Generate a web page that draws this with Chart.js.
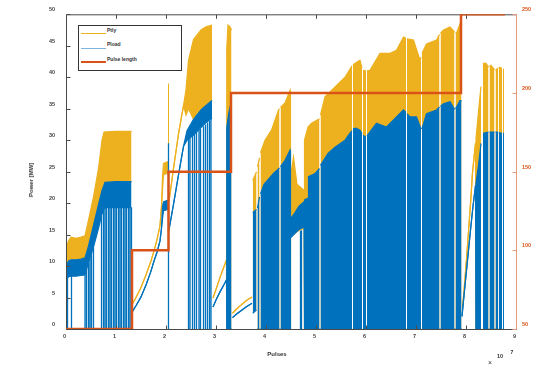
<!DOCTYPE html>
<html>
<head>
<meta charset="utf-8">
<script src="https://cdn.jsdelivr.net/npm/chart.js@4.4.1/dist/chart.umd.min.js"></script>
<style>
  html, body { margin: 0; padding: 0; background: #fff; }
  #wrap { position: relative; width: 536px; height: 365px; overflow: hidden;
          font-family: 'Liberation Sans', Arial, sans-serif; font-weight: bold; color: #333; }
  #c { position: absolute; left: 0; top: 0; }
  .t { position: absolute; white-space: nowrap; line-height: 1; }
  .sw { position: absolute; }
</style>
</head>
<body>
<div id="wrap">
  <canvas id="c" width="536" height="365"></canvas>

  <div class="t" style="left:31px;top:180px;font-size:6px;transform:translate(-50%,-50%) rotate(-90deg);">Power [MW]</div>
  <div class="t" style="left:277px;top:354px;font-size:6px;transform:translate(-50%,-50%);">Pulses</div>
  <div class="t" style="left:490px;top:362px;font-size:7px;font-weight:normal;transform:translate(-50%,-50%);">&times;</div>
  <div class="t" style="left:500px;top:357px;font-size:5.5px;transform:translate(-50%,-50%);">10</div>
  <div class="t" style="left:512px;top:352px;font-size:5px;transform:translate(-50%,-50%);">7</div>

  <div style="position:absolute;left:78px;top:25px;width:104px;height:46px;border:1px solid #333;background:#fff;box-sizing:border-box;"></div>
  <div class="sw" style="left:81px;top:32.5px;width:25px;height:1.2px;background:#EDB120;"></div>
  <div class="t" style="left:107px;top:29.5px;font-size:5px;transform:translateY(-50%);">Ptly</div>
  <div class="sw" style="left:81px;top:47.5px;width:25px;height:1.6px;background:#7FB5DE;"></div>
  <div class="t" style="left:107px;top:44px;font-size:5px;transform:translateY(-50%);">Pload</div>
  <div class="sw" style="left:81px;top:61px;width:25px;height:2.4px;background:#D95319;"></div>
  <div class="t" style="left:107px;top:59px;font-size:5px;transform:translateY(-50%);">Pulse length</div>
</div>

<script>
// ---------- data (pulses in units of 1e7) ----------
const pulseTicks = [0, 1, 2, 3, 4, 5, 6, 7, 8, 9];
const powerTicks = [0, 5, 10, 15, 20, 25, 30, 35, 40, 45, 50];
const lengthTicks = [50, 100, 150, 200, 250];

// pulse length step series (right axis)
const pulseLengthX = [0, 1.32, 2.05, 3.30, 7.90, 8.78];
const pulseLength  = [50, 100, 150, 200, 250, 250];

// Pload envelope: [pulses, high MW, low MW]  (null = no data)
const pload = [
  [0.00, 9.8, 7.8], [0.05, 10.8, 8.3], [0.10, 11.0, 8.4], [0.20, 11.0, 8.4], [0.30, 11.1, 8.5], [0.38, 11.3, 8.6],
  [0.45, 13.2, 10.5], [0.55, 16.5, 13.0], [0.65, 19.8, 16.0], [0.72, 22.0, 18.3], [0.78, 23.3, 19.3], [1.00, 23.4, 19.3], [1.31, 23.4, 19.3],
  [1.32, null, null],
  [1.33, 2.8, 2.8], [1.40, 3.7, 3.7], [1.50, 5.1, 5.1], [1.60, 7.0, 7.0], [1.70, 9.2, 9.2], [1.76, 10.8, 10.8], [1.82, 12.2, 12.2], [1.88, 14.0, 14.0], [1.91, 16.0, 16.0], [1.93, 19.5, 17.5], [1.95, 20.2, 18.8], [2.04, 20.5, 19.0],
  [2.045, null, null],
  [2.06, 15.8, 15.8], [2.15, 19.8, 19.8], [2.25, 24.5, 24.5], [2.35, 29.0, 29.0], [2.42, 31.5, 30.0], [2.55, 33.3, 30.8], [2.70, 34.8, 32.0], [2.80, 35.5, 32.8], [2.92, 36.3, 33.5],
  [2.93, null, null],
  [2.94, 3.5, 3.5], [3.00, 4.6, 4.6], [3.08, 5.9, 5.9], [3.15, 6.9, 6.9], [3.21, 7.8, 7.8],
  [3.215, 32.0, 0], [3.26, 34.5, 0], [3.31, 36.3, 0],
  [3.32, null, null],
  [3.33, 1.8, 1.8], [3.40, 2.3, 2.3], [3.50, 2.9, 2.9], [3.60, 3.5, 3.5], [3.72, 4.1, 4.1],
  [3.725, null, null],
  [3.735, 18.5, 2.5], [3.81, 19.0, 3.0],
  [3.82, null, null],
  [3.83, 19.2, 0], [3.87, 21.0, 0], [3.88, null, null], [3.89, 21.5, 0], [3.96, 23.0, 0], [4.05, 23.8, 0], [4.15, 24.7, 0], [4.27, 25.6, 0], [4.28, null, null], [4.29, 25.8, 0], [4.38, 26.8, 0], [4.48, 28.4, 0],
  [4.49, 17.5, 14.5], [4.58, 18.5, 15.2], [4.66, 19.5, 15.8], [4.76, 20.2, 16.2],
  [4.77, 20.5, 0], [4.84, 20.8, 0], [4.85, 24.2, 0], [4.98, 24.7, 0], [5.07, 25.5, 0], [5.08, null, null], [5.09, 26.0, 0], [5.24, 27.9, 0], [5.38, 28.9, 0], [5.58, 30.0, 0], [5.65, 30.8, 0], [5.72, 31.5, 0], [5.73, null, null], [5.74, 31.8, 0], [5.80, 31.9, 0], [5.88, 31.6, 0], [5.92, 31.0, 0], [5.93, null, null], [5.94, 30.8, 0], [6.00, 30.5, 0], [6.01, null, null], [6.02, 30.7, 0],
  [6.21, 32.7, 0], [6.41, 32.1, 0], [6.55, 33.2, 0], [6.75, 34.8, 0], [6.80, 34.4, 0], [6.81, null, null], [6.82, 34.2, 0], [6.88, 33.7, 0], [7.01, 33.7, 0], [7.10, 31.8, 0], [7.11, null, null], [7.12, 31.8, 0], [7.21, 34.2, 0], [7.41, 34.8, 0], [7.47, 35.3, 0], [7.48, null, null], [7.49, 35.4, 0], [7.55, 35.8, 0], [7.68, 36.1, 0], [7.77, 34.9, 0], [7.78, null, null], [7.79, 35.0, 0], [7.88, 36.3, 0], [7.91, 36.3, 0],
  [7.915, null, null],
  [7.92, 2.0, 2.0], [7.95, 4.5, 4.5], [8.00, 8.5, 8.5], [8.05, 12.5, 12.5], [8.10, 16.5, 16.5], [8.14, 19.5, 19.5], [8.19, 22.8, 22.8], [8.20, 23.2, 0], [8.25, 26.0, 0], [8.30, 29.5, 0], [8.32, null, null], [8.34, 30.9, 0], [8.35, 31.1, 0], [8.45, 31.3, 0], [8.46, null, null], [8.47, 31.3, 0], [8.57, 31.3, 0], [8.58, null, null], [8.59, 31.3, 0], [8.64, 31.3, 0], [8.645, null, null], [8.655, 31.2, 0], [8.72, 31.1, 0], [8.73, null, null], [8.74, 31.1, 0], [8.76, 31.1, 0]
];

// Ptly envelope: [pulses, high MW, low MW]
const ptly = [
  [0.00, 12.8, 9.8], [0.05, 14.0, 10.8], [0.10, 14.6, 11.0], [0.20, 14.4, 11.0], [0.30, 14.6, 11.1], [0.38, 14.8, 11.3],
  [0.45, 17.3, 13.2], [0.55, 21.0, 16.5], [0.65, 25.5, 19.8], [0.72, 30.0, 22.0], [0.76, 31.3, 23.0], [1.00, 31.4, 23.4], [1.31, 31.4, 23.4],
  [1.32, null, null],
  [1.33, 4.0, 4.0], [1.40, 5.0, 5.0], [1.50, 6.6, 6.6], [1.60, 8.6, 8.6], [1.70, 10.8, 10.8], [1.76, 12.4, 12.4], [1.82, 14.2, 14.2], [1.88, 16.4, 16.4], [1.91, 19.5, 19.5], [1.93, 24.2, 22.0], [1.95, 26.3, 24.5], [2.04, 26.6, 24.8],
  [2.045, null, null],
  [2.06, 20.3, 20.3], [2.15, 25.5, 25.5], [2.25, 31.0, 31.0], [2.35, 35.5, 35.5], [2.40, 38.0, 34.0], [2.45, 42.7, 35.0], [2.55, 46.0, 33.3], [2.70, 47.5, 34.8], [2.80, 48.0, 35.5], [2.92, 48.3, 36.3],
  [2.93, null, null],
  [2.94, 4.9, 4.9], [3.00, 6.3, 6.3], [3.08, 8.2, 8.2], [3.15, 9.7, 9.7], [3.21, 11.0, 11.0],
  [3.215, 44.5, 0], [3.24, 48.3, 0], [3.28, 48.0, 0], [3.31, 47.5, 0],
  [3.32, null, null],
  [3.33, 2.5, 2.5], [3.40, 3.1, 3.1], [3.50, 3.8, 3.8], [3.60, 4.5, 4.5], [3.72, 5.1, 5.1],
  [3.725, null, null],
  [3.735, 23.6, 3.0], [3.81, 25.0, 3.0],
  [3.82, null, null],
  [3.83, 25.8, 0], [3.87, 27.2, 0], [3.88, null, null], [3.89, 28.0, 0], [3.98, 30.0, 0], [4.11, 31.6, 0], [4.25, 34.8, 0], [4.27, 35.0, 0], [4.28, null, null], [4.29, 35.2, 0], [4.38, 35.9, 0], [4.48, 37.9, 0],
  [4.49, 24.0, 15.0], [4.55, 27.3, 15.0], [4.62, 23.0, 15.5], [4.76, 22.0, 16.0],
  [4.77, 30.0, 0], [4.84, 32.1, 0], [4.91, 32.7, 0], [5.07, 33.4, 0], [5.08, null, null], [5.09, 34.0, 0], [5.18, 36.9, 0], [5.31, 37.9, 0], [5.58, 40.0, 0], [5.72, 41.8, 0], [5.73, null, null], [5.74, 42.0, 0], [5.80, 42.3, 0], [5.88, 42.7, 0], [5.92, 41.5, 0], [5.93, null, null], [5.94, 41.1, 0], [6.00, 41.0, 0], [6.01, null, null], [6.02, 41.0, 0],
  [6.08, 41.1, 0], [6.28, 43.8, 0], [6.48, 43.8, 0], [6.61, 44.3, 0], [6.75, 46.4, 0], [6.80, 46.2, 0], [6.81, null, null], [6.82, 46.1, 0], [6.95, 45.9, 0], [7.08, 42.7, 0], [7.10, 43.2, 0], [7.11, null, null], [7.12, 43.8, 0], [7.21, 45.3, 0], [7.41, 45.9, 0], [7.47, 46.8, 0], [7.48, null, null], [7.49, 47.0, 0], [7.55, 47.5, 0], [7.68, 48.0, 0], [7.77, 47.2, 0], [7.78, null, null], [7.79, 47.1, 0], [7.81, 47.0, 0], [7.88, 48.5, 0], [7.91, 48.9, 0],
  [7.915, null, null],
  [7.93, 3.5, 3.5], [7.95, 5.1, 5.1], [8.00, 10.0, 10.0], [8.05, 15.5, 15.5], [8.10, 21.0, 21.0], [8.13, 24.8, 24.8], [8.17, 28.0, 28.0], [8.19, 29.5, 29.5], [8.20, 30.3, 0], [8.28, 37.0, 0], [8.30, 38.5, 0], [8.32, null, null], [8.34, 41.5, 0], [8.35, 42.2, 0], [8.40, 42.2, 0], [8.45, 41.6, 0], [8.46, null, null], [8.47, 41.7, 0], [8.50, 41.9, 0], [8.57, 41.2, 0], [8.58, null, null], [8.59, 41.1, 0], [8.64, 41.5, 0], [8.645, null, null], [8.655, 41.6, 0], [8.72, 41.4, 0], [8.73, null, null], [8.74, 41.3, 0], [8.76, 41.2, 0]
];

// Pload drop-outs to zero (pulses, top MW)
const ploadDropX = [0.03, 0.11, 0.38, 0.41, 0.45, 0.48, 0.51, 0.55,
  0.71, 0.75, 0.78, 0.81, 0.85, 0.88, 0.91, 0.95, 0.98, 1.01, 1.05, 1.08, 1.11, 1.15, 1.18, 1.21, 1.25, 1.28, 1.31,
  2.05, 2.45, 2.48, 2.53, 2.57, 2.61, 2.66, 2.69, 2.75, 2.79, 2.83, 2.87, 2.90, 4.69, 4.71];
const ploadDropTop = [8.5, 8.4, 8.6, 9.6, 10.5, 11.4, 12.3, 13.0,
  18.0, 18.8, 19.3, 19.3, 19.3, 19.3, 19.3, 19.3, 19.3, 19.3, 19.3, 19.3, 19.3, 19.3, 19.3, 19.3, 19.3, 19.3, 19.3,
  29.5, 30.3, 30.5, 30.8, 31.0, 31.3, 31.6, 31.8, 32.2, 32.5, 32.8, 33.1, 33.4, 15.6, 15.7];
// Ptly spike
const ptlyDropX = [2.05];
const ptlyDropTop = [39.0];

// ---------- chart ----------
const YELLOW = '#EDB120', BLUE = '#0072BD', ORANGE = '#D95319';
const col = (rows, i) => rows.map(r => ({ x: r[0], y: r[i] }));
const drops = (xs, tops) => xs.flatMap((x, i) => [{ x, y: 0 }, { x, y: tops[i] }, { x, y: null }]);

const frame = {
  id: 'frame',
  beforeDatasetDraw(chart, args) {
    if (args.index !== 0) return;
    const { ctx, chartArea: a, scales } = chart;
    const L = a.left + 0.5, R = a.right + 0.5, T = a.top + 0.5, B = a.bottom + 0.5;
    ctx.save();
    ctx.lineWidth = 1;
    ctx.strokeStyle = '#4a4a4a';
    ctx.beginPath();
    ctx.moveTo(L, B); ctx.lineTo(L, T); ctx.lineTo(R, T);
    ctx.moveTo(L, B); ctx.lineTo(R, B);
    scales.y.ticks.forEach(t => { const y = Math.round(scales.y.getPixelForValue(t.value)) + 0.5; ctx.moveTo(L, y); ctx.lineTo(L + 4, y); });
    scales.x.ticks.forEach(t => { const x = Math.round(scales.x.getPixelForValue(t.value)) + 0.5; ctx.moveTo(x, B); ctx.lineTo(x, B - 4); ctx.moveTo(x, T); ctx.lineTo(x, T + 4); });
    ctx.stroke();
    ctx.strokeStyle = '#E59A78';
    ctx.beginPath();
    ctx.moveTo(R, T); ctx.lineTo(R, B);
    scales.y2.ticks.forEach(t => { const y = Math.round(scales.y2.getPixelForValue(t.value)) + 0.5; ctx.moveTo(R, y); ctx.lineTo(R - 4, y); });
    ctx.stroke();
    ctx.restore();
  }
};

const tickFont = { family: "'Liberation Sans', Arial, sans-serif", size: 5.5, weight: 'bold' };

new Chart(document.getElementById('c'), {
  type: 'line',
  data: {
    datasets: [
      { label: 'Pulse length', yAxisID: 'y2', data: pulseLengthX.map((x, i) => ({ x, y: pulseLength[i] })),
        stepped: true, borderColor: ORANGE, borderWidth: 2.5, fill: false, order: 0 },
      { label: 'Pload', data: col(pload, 1), borderColor: BLUE, backgroundColor: BLUE, borderWidth: 1.2, fill: '+1', order: 1 },
      { label: 'Pload low', data: col(pload, 2), borderColor: BLUE, borderWidth: 1.2, fill: false, order: 1 },
      { label: 'Pload drops', data: drops(ploadDropX, ploadDropTop), borderColor: BLUE, borderWidth: 1.3, fill: false, order: 2 },
      { label: 'Ptly', data: col(ptly, 1), borderColor: YELLOW, backgroundColor: YELLOW, borderWidth: 1.2, fill: '+1', order: 3 },
      { label: 'Ptly low', data: col(ptly, 2), borderColor: YELLOW, borderWidth: 1.2, fill: false, order: 3 },
      { label: 'Ptly drops', data: drops(ptlyDropX, ptlyDropTop), borderColor: YELLOW, borderWidth: 1, fill: false, order: 4 }
    ]
  },
  options: {
    responsive: false,
    animation: false,
    spanGaps: false,
    elements: { point: { radius: 0, hoverRadius: 0 }, line: { tension: 0 } },
    layout: { padding: { left: 0, right: 0, top: 14, bottom: 0 } },
    plugins: { legend: { display: false }, tooltip: { enabled: false } },
    events: [],
    scales: {
      x: {
        type: 'linear', min: 0, max: 9,
        afterFit: s => { s.height = 36; },
        afterBuildTicks: s => { s.ticks = pulseTicks.map(v => ({ value: v })); },
        grid: { display: false, drawTicks: false }, border: { display: false },
        ticks: { font: tickFont, color: '#444', padding: 4, labelOffset: -1.5, maxRotation: 0, autoSkip: false }
      },
      y: {
        type: 'linear', position: 'left', min: 0, max: 50,
        afterFit: s => { s.width = 66; },
        afterBuildTicks: s => { s.ticks = powerTicks.map(v => ({ value: v })); },
        grid: { display: false, drawTicks: false }, border: { display: false },
        ticks: { font: tickFont, color: '#444', padding: 11, labelOffset: -4.5, autoSkip: false }
      },
      y2: {
        type: 'linear', position: 'right', min: 50, max: 250,
        afterFit: s => { s.width = 20; },
        afterBuildTicks: s => { s.ticks = lengthTicks.map(v => ({ value: v })); },
        grid: { display: false, drawTicks: false }, border: { display: false },
        ticks: { font: tickFont, color: ORANGE, padding: 6, labelOffset: -4.5, autoSkip: false }
      }
    }
  },
  plugins: [frame]
});
</script>
</body>
</html>
